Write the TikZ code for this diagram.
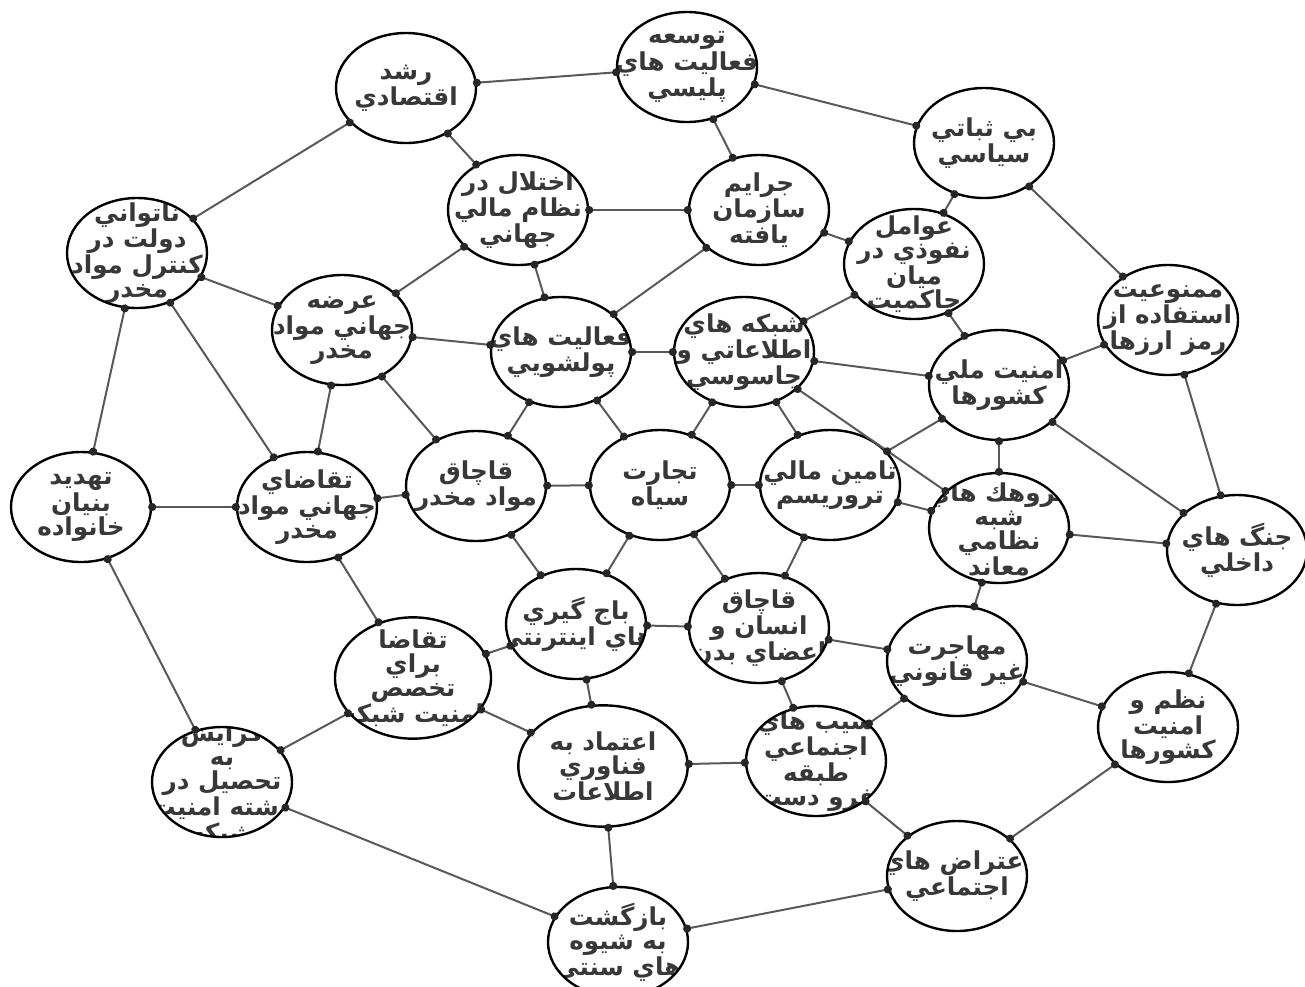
\documentclass[tikz,border=0pt]{standalone}
\usepackage{fontspec}
\usepackage{tikz}
\usetikzlibrary{shapes.geometric, arrows.meta}
\newfontfamily\arabicfont[Script=Arabic]{DejaVu Sans}
\TeXXeTstate=1

\tikzset{
  topic/.style={ellipse, draw=black, line width=1.8pt, minimum width=105pt, minimum height=82.5pt, inner sep=0pt,
    path picture={\node[topictext] at (path picture bounding box.center) {#1};}},
  topictext/.style={align=center, font=\arabicfont\bfseries\fontsize{18.5}{18}\selectfont, text=black!78},
  link/.style={draw=black!65, line width=1.5pt, {Circle[length=6pt,color=black!85]}-{Circle[length=6pt,color=black!85]}, shorten <=-3pt, shorten >=-3pt}
}

\begin{document}
\begin{tikzpicture}[x=0.75pt, y=-0.75pt]
    \useasboundingbox (0,0) rectangle (1305,986);

    % top row
    \node[topic={\beginR رشد\endR\\\beginR اقتصادي\endR}] (growth) at (406,88) {};
    \node[topic={\beginR توسعه\endR\\\beginR فعاليت هاي\endR\\\beginR پليسي\endR}] (police) at (687,67) {};
    \node[topic={\beginR بي ثباتي\endR\\\beginR سياسي\endR}] (instab) at (984,143) {};
    \node[topic={\beginR ناتواني\endR\\\beginR دولت در\endR\\\beginR كنترل مواد\endR\\\beginR مخدر\endR}] (weakgov) at (137,253) {};
    \node[topic={\beginR اختلال در\endR\\\beginR نظام مالي\endR\\\beginR جهاني\endR}] (finsys) at (518,210) {};
    \node[topic={\beginR جرايم\endR\\\beginR سازمان\endR\\\beginR يافته\endR}] (orgcrime) at (759,210) {};
    \node[topic={\beginR عوامل\endR\\\beginR نفوذي در\endR\\\beginR ميان\endR\\\beginR حاكميت\endR}] (infilt) at (914,264) {};
    \node[topic={\beginR ممنوعيت\endR\\\beginR استفاده از\endR\\\beginR رمز ارزها\endR}] (cryptoban) at (1168,320) {};

    % middle
    \node[topic={\beginR عرضه\endR\\\beginR جهاني مواد\endR\\\beginR مخدر\endR}] (supply) at (342,330) {};
    \node[topic={\beginR فعاليت هاي\endR\\\beginR پولشويي\endR}] (launder) at (561,352) {};
    \node[topic={\beginR شبكه هاي\endR\\\beginR اطلاعاتي و\endR\\\beginR جاسوسي\endR}] (intel) at (744,352) {};
    \node[topic={\beginR امنيت ملي\endR\\\beginR كشورها\endR}] (natsec) at (999,385) {};
    \node[topic={\beginR تهديد\endR\\\beginR بنيان\endR\\\beginR خانواده\endR}] (family) at (81,507) {};
    \node[topic={\beginR تقاضاي\endR\\\beginR جهاني مواد\endR\\\beginR مخدر\endR}] (demand) at (307,507) {};
    \node[topic={\beginR قاچاق\endR\\\beginR مواد مخدر\endR}] (drugs) at (476,486) {};
    \node[topic={\beginR تجارت\endR\\\beginR سياه\endR}] (blackmkt) at (660,485) {};
    \node[topic={\beginR تامين مالي\endR\\\beginR تروريسم\endR}] (terrfin) at (830,485) {};
    \node[topic={\beginR گروهك هاي\endR\\\beginR شبه\endR\\\beginR نظامي\endR\\\beginR معاند\endR}] (militia) at (999,528) {};
    \node[topic={\beginR جنگ هاي\endR\\\beginR داخلي\endR}] (civilwar) at (1237,550) {};

    % bottom
    \node[topic={\beginR باج گيري\endR\\\beginR هاي اينترنتي\endR}] (extort) at (576,624) {};
    \node[topic={\beginR قاچاق\endR\\\beginR انسان و\endR\\\beginR اعضاي بدن\endR}] (humantr) at (759,628) {};
    \node[topic={\beginR مهاجرت\endR\\\beginR غير قانوني\endR}] (migr) at (957,661) {};
    \node[topic={\beginR تقاضا\endR\\\beginR براي\endR\\\beginR تخصص\endR\\\beginR امنيت شبكه\endR}, minimum width=117pt, minimum height=91pt] (secdemand) at (413,678) {};
    \node[topic={\beginR اعتماد به\endR\\\beginR فناوري\endR\\\beginR اطلاعات\endR}, minimum width=127pt, minimum height=91pt] (trust) at (603,766) {};
    \node[topic={\beginR گرايش\endR\\\beginR به\endR\\\beginR تحصيل در\endR\\\beginR رشته امنيت\endR\\\beginR شبكه\endR}] (eduint) at (222,782) {};
    \node[topic={\beginR شيب هاي\endR\\\beginR اجنماعي\endR\\\beginR طبقه\endR\\\beginR فرو دست\endR}] (socgrad) at (816,761) {};
    \node[topic={\beginR نظم و\endR\\\beginR امنيت\endR\\\beginR كشورها\endR}] (order) at (1168,727) {};
    \node[topic={\beginR اعتراض هاي\endR\\\beginR اجتماعي\endR}] (protest) at (957,876) {};
    \node[topic={\beginR بازگشت\endR\\\beginR به شيوه\endR\\\beginR هاي سنتي\endR}] (tradit) at (618,942) {};

    % links
    \foreach \a/\b in {growth/police, growth/weakgov, growth/finsys, police/instab, police/orgcrime,
        instab/infilt, instab/cryptoban, weakgov/supply, weakgov/family, weakgov/demand,
        finsys/orgcrime, finsys/supply, finsys/launder, orgcrime/launder, orgcrime/infilt,
        infilt/intel, infilt/natsec, cryptoban/natsec, cryptoban/civilwar,
        supply/launder, supply/demand, supply/drugs, launder/intel, launder/drugs, launder/blackmkt,
        intel/natsec, intel/blackmkt, intel/terrfin, intel/militia,
        natsec/terrfin, natsec/militia, natsec/civilwar, family/demand, family/eduint,
        demand/drugs, demand/secdemand, drugs/blackmkt, drugs/extort,
        blackmkt/terrfin, blackmkt/extort, blackmkt/humantr, terrfin/humantr, terrfin/militia,
        militia/civilwar, militia/migr, extort/humantr, extort/secdemand, extort/trust,
        humantr/migr, humantr/socgrad, migr/order, migr/socgrad, order/civilwar, order/protest,
        secdemand/eduint, secdemand/trust, eduint/tradit, trust/socgrad, trust/tradit,
        socgrad/protest, protest/tradit}
        \draw[link] (\a) -- (\b);
\end{tikzpicture}
\end{document}
